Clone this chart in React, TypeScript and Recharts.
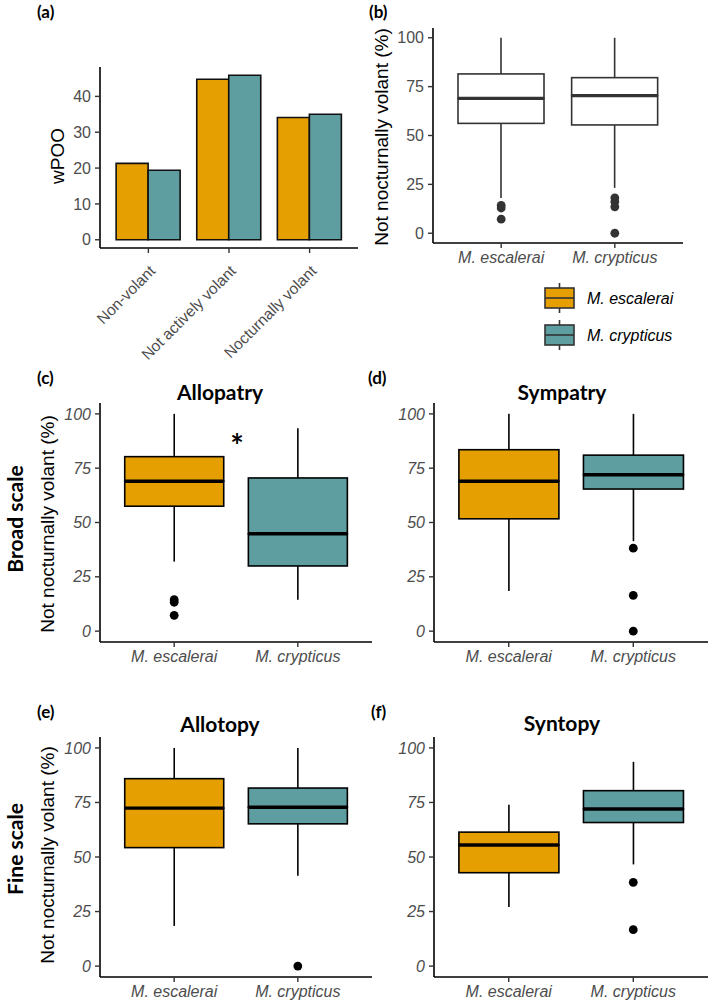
import React from 'react';
import { BarChart, Bar, ComposedChart, Scatter, XAxis, YAxis, Cell } from 'recharts';

const ORANGE = '#E69F00';
const TEAL = '#5F9EA0';
const SANS = '"Liberation Sans", Arial, sans-serif';
const HEAD = 'Lato, "Open Sans", sans-serif';
const TICK_GREY = '#4d4d4d';

// (a) weighted percentage of occurrence per activity class
const traits = ['Non-volant', 'Not actively volant', 'Nocturnally volant'];
const wpooEscalerai = [21.3, 44.8, 34.1];
const wpooCrypticus = [19.4, 45.9, 35.0];
const wpooTicks = [0, 10, 20, 30, 40];

const species = ['M. escalerai', 'M. crypticus'];
const pctTicks = [0, 25, 50, 75, 100];

// box stats per species: [lower whisker, Q1, median, Q3, upper whisker]
const allStats = [[18, 56.2, 69, 81.5, 100], [23.2, 55.4, 70.4, 79.6, 100]];
const allOutliers = [[14.3, 12.9, 7.2], [18.1, 16.1, 13.5, 0]];

const allopatryStats = [[32, 57.5, 69, 80.3, 100], [14.5, 30, 44.8, 70.5, 93.4]];
const allopatryOutliers = [[14.5, 13.3, 7.3], []];

const sympatryStats = [[18.5, 51.7, 69, 83.5, 100], [41.4, 65.4, 72, 81, 100]];
const sympatryOutliers = [[], [38.2, 16.5, 0]];

const allotopyStats = [[18.4, 54.3, 72.4, 85.9, 100], [41.4, 65.2, 72.8, 81.6, 100]];
const allotopyOutliers = [[], [0]];

const syntopyStats = [[27.1, 42.8, 55.5, 61.4, 73.9], [46.6, 65.8, 72, 80.4, 93.6]];
const syntopyOutliers = [[], [38.4, 16.7]];

const axisLine = { stroke: '#000', strokeWidth: 1.6 };
const tickLine = { stroke: '#333', strokeWidth: 1.4 };

// ggplot-like discrete axis: 0.6 units of expansion on each side
const discretePad = (plotW: number, n: number) => (plotW * 0.1) / (n + 0.2);

const Whisker = (p: any) => {
  const cx = p.x + p.width / 2;
  return <line x1={cx} x2={cx} y1={p.y} y2={p.y + p.height} stroke={p.stroke} strokeWidth={1.6} />;
};

const LowerBox = (p: any) => (
  <rect x={p.x} y={p.y} width={p.width} height={p.height} fill={p.fill} stroke={p.stroke} strokeWidth={1.6} />
);

const UpperBox = (p: any) => (
  <g>
    <rect x={p.x} y={p.y} width={p.width} height={p.height} fill={p.fill} stroke={p.stroke} strokeWidth={1.6} />
    <line x1={p.x} x2={p.x + p.width} y1={p.y + p.height} y2={p.y + p.height} stroke={p.stroke} strokeWidth={3.4} />
  </g>
);

const SlantTick = ({ x, y, payload }: any) => (
  <text
    x={x}
    y={y}
    dy="0.72em"
    textAnchor="end"
    transform={`rotate(-45 ${x} ${y})`}
    fill={TICK_GREY}
    fontSize={15.5}
    fontFamily={SANS}
  >
    {payload.value}
  </text>
);

function WpooPanel() {
  const rows = traits.map((name, i) => ({ name, esc: wpooEscalerai[i], cry: wpooCrypticus[i] }));
  const width = 360;
  const yw = 100;
  const mr = 2;
  return (
    <div style={{ position: 'absolute', left: 0, top: 0 }}>
      <BarChart
        width={width}
        height={380}
        data={rows}
        margin={{ top: 67, right: mr, left: 0, bottom: 0 }}
        barCategoryGap="10%"
        barGap={0}
      >
        <XAxis
          dataKey="name"
          height={132}
          interval={0}
          padding={{ left: discretePad(width - yw - mr, 3), right: discretePad(width - yw - mr, 3) }}
          tickSize={5}
          tickMargin={11}
          axisLine={axisLine}
          tickLine={tickLine}
          tick={<SlantTick />}
        />
        <YAxis
          type="number"
          domain={[-2.3, 48.2]}
          ticks={wpooTicks}
          width={yw}
          tickSize={5}
          tickMargin={4}
          axisLine={axisLine}
          tickLine={tickLine}
          tick={{ fill: TICK_GREY, fontSize: 16, fontFamily: SANS }}
        />
        <Bar dataKey="esc" fill={ORANGE} stroke="#111" strokeWidth={1.6} isAnimationActive={false} />
        <Bar dataKey="cry" fill={TEAL} stroke="#111" strokeWidth={1.6} isAnimationActive={false} />
      </BarChart>
    </div>
  );
}

interface BoxPanelProps {
  left: number;
  top: number;
  width: number;
  height: number;
  marginTop: number;
  axisWidth: number;
  marginRight: number;
  xAxisHeight: number;
  stats: number[][];
  outliers: number[][];
  fills: string[];
  ink: string;
  italicY: boolean;
  boxFrac: number;
}

function BoxPanel(props: BoxPanelProps) {
  const { left, top, width, height, marginTop, axisWidth, marginRight, xAxisHeight, stats, outliers, fills, ink, italicY, boxFrac } = props;
  const rows = species.map((name, i) => {
    const [lo, q1, med, q3, hi] = stats[i];
    return { name, base: lo, lowW: q1 - lo, lowBox: med - q1, highBox: q3 - med, highW: hi - q3 };
  });
  const outs = outliers.flatMap((vals, i) => vals.map((v) => ({ name: species[i], v })));
  const plotW = width - axisWidth - marginRight;
  const pad = discretePad(plotW, species.length);
  const gap = `${((1 - boxFrac) / 2) * 100}%`;
  return (
    <div style={{ position: 'absolute', left, top }}>
      <ComposedChart
        width={width}
        height={height}
        data={rows}
        margin={{ top: marginTop, right: marginRight, left: 0, bottom: 0 }}
        barCategoryGap={gap}
      >
        <XAxis
          dataKey="name"
          type="category"
          allowDuplicatedCategory={false}
          height={xAxisHeight}
          interval={0}
          padding={{ left: pad, right: pad }}
          tickSize={5}
          tickMargin={4}
          axisLine={axisLine}
          tickLine={tickLine}
          tick={{ fill: TICK_GREY, fontSize: 16, fontStyle: 'italic', fontFamily: SANS }}
        />
        <YAxis
          type="number"
          domain={[-5, 105]}
          ticks={pctTicks}
          width={axisWidth}
          tickSize={5}
          tickMargin={4}
          axisLine={axisLine}
          tickLine={tickLine}
          tick={{ fill: TICK_GREY, fontSize: 16, fontStyle: italicY ? 'italic' : 'normal', fontFamily: SANS }}
        />
        <Bar dataKey="base" stackId="box" fill="none" stroke="none" isAnimationActive={false} />
        <Bar dataKey="lowW" stackId="box" stroke={ink} shape={<Whisker />} isAnimationActive={false} />
        <Bar dataKey="lowBox" stackId="box" stroke={ink} shape={<LowerBox />} isAnimationActive={false}>
          {rows.map((r, i) => (
            <Cell key={r.name} fill={fills[i]} />
          ))}
        </Bar>
        <Bar dataKey="highBox" stackId="box" stroke={ink} shape={<UpperBox />} isAnimationActive={false}>
          {rows.map((r, i) => (
            <Cell key={r.name} fill={fills[i]} />
          ))}
        </Bar>
        <Bar dataKey="highW" stackId="box" stroke={ink} shape={<Whisker />} isAnimationActive={false} />
        <Scatter
          data={outs}
          dataKey="v"
          isAnimationActive={false}
          shape={(p: any) => <circle cx={p.cx} cy={p.cy} r={4.4} fill={ink} />}
        />
      </ComposedChart>
    </div>
  );
}

const LegendKey = ({ y, fill, label }: { y: number; fill: string; label: string }) => (
  <g>
    <line x1={559.5} x2={559.5} y1={y - 15} y2={y + 15} stroke="#333" strokeWidth={1.6} />
    <rect x={545} y={y - 10} width={29} height={20} fill={fill} stroke="#333" strokeWidth={1.6} />
    <line x1={545} x2={574} y1={y} y2={y} stroke="#333" strokeWidth={1.6} />
    <text x={587} y={y + 6} fontSize={16} fontStyle="italic" fontFamily={SANS} fill="#000">
      {label}
    </text>
  </g>
);

const RotTitle = ({ x, y, children, size, bold }: any) => (
  <text
    transform={`translate(${x} ${y}) rotate(-90)`}
    textAnchor="middle"
    dominantBaseline="central"
    fontSize={size}
    fontWeight={bold ? 700 : 400}
    fontFamily={bold ? HEAD : SANS}
    fill="#000"
  >
    {children}
  </text>
);

const Tag = ({ x, y, children }: any) => (
  <text x={x} y={y} fontSize={17} fontWeight={700} fontFamily={HEAD} fill="#000">
    {children}
  </text>
);

const Title = ({ x, y, children }: any) => (
  <text x={x} y={y} textAnchor="middle" fontSize={21} fontWeight={700} fontFamily={HEAD} fill="#000">
    {children}
  </text>
);

export default function App() {
  const coloured = [ORANGE, TEAL];
  const leftBox = { left: 0, width: 380, axisWidth: 100, marginRight: 8 };
  const rightBox = { left: 350, width: 359, axisWidth: 84, marginRight: 1 };
  return (
    <div style={{ position: 'relative', width: 709, height: 1006, overflow: 'hidden', background: '#fff' }}>
      <style>{'body{margin:0}'}</style>
      <WpooPanel />
      <BoxPanel
        left={350}
        top={0}
        width={359}
        height={280}
        marginTop={28}
        axisWidth={83}
        marginRight={26}
        xAxisHeight={37}
        stats={allStats}
        outliers={allOutliers}
        fills={['#fff', '#fff']}
        ink="#333"
        italicY={false}
        boxFrac={0.76}
      />
      <BoxPanel {...leftBox} top={330} height={341} marginTop={73} xAxisHeight={29} stats={allopatryStats} outliers={allopatryOutliers} fills={coloured} ink="#000" italicY boxFrac={0.8} />
      <BoxPanel {...rightBox} top={330} height={341} marginTop={73} xAxisHeight={29} stats={sympatryStats} outliers={sympatryOutliers} fills={coloured} ink="#000" italicY boxFrac={0.8} />
      <BoxPanel {...leftBox} top={665} height={341} marginTop={72} xAxisHeight={29} stats={allotopyStats} outliers={allotopyOutliers} fills={coloured} ink="#000" italicY boxFrac={0.8} />
      <BoxPanel {...rightBox} top={665} height={341} marginTop={72} xAxisHeight={29} stats={syntopyStats} outliers={syntopyOutliers} fills={coloured} ink="#000" italicY boxFrac={0.8} />
      <svg width={709} height={1006} style={{ position: 'absolute', left: 0, top: 0, pointerEvents: 'none' }}>
        <Tag x={37} y={18}>(a)</Tag>
        <Tag x={369} y={18}>(b)</Tag>
        <Tag x={37} y={384}>(c)</Tag>
        <Tag x={368} y={384}>(d)</Tag>
        <Tag x={37} y={718}>(e)</Tag>
        <Tag x={371} y={718}>(f)</Tag>
        <Title x={220} y={400}>Allopatry</Title>
        <Title x={562} y={400}>Sympatry</Title>
        <Title x={220} y={732}>Allotopy</Title>
        <Title x={562} y={731}>Syntopy</Title>
        <RotTitle x={57} y={156} size={19}>wPOO</RotTitle>
        <RotTitle x={381} y={137} size={19}>Not nocturnally volant (%)</RotTitle>
        <RotTitle x={47} y={524} size={19}>Not nocturnally volant (%)</RotTitle>
        <RotTitle x={47} y={855} size={19}>Not nocturnally volant (%)</RotTitle>
        <RotTitle x={14} y={519} size={21} bold>Broad scale</RotTitle>
        <RotTitle x={14} y={849} size={21} bold>Fine scale</RotTitle>
        <text x={237} y={458} textAnchor="middle" fontSize={32} fontWeight={700} fontFamily={HEAD} fill="#000">*</text>
        <LegendKey y={298} fill={ORANGE} label="M. escalerai" />
        <LegendKey y={335} fill={TEAL} label="M. crypticus" />
      </svg>
    </div>
  );
}
